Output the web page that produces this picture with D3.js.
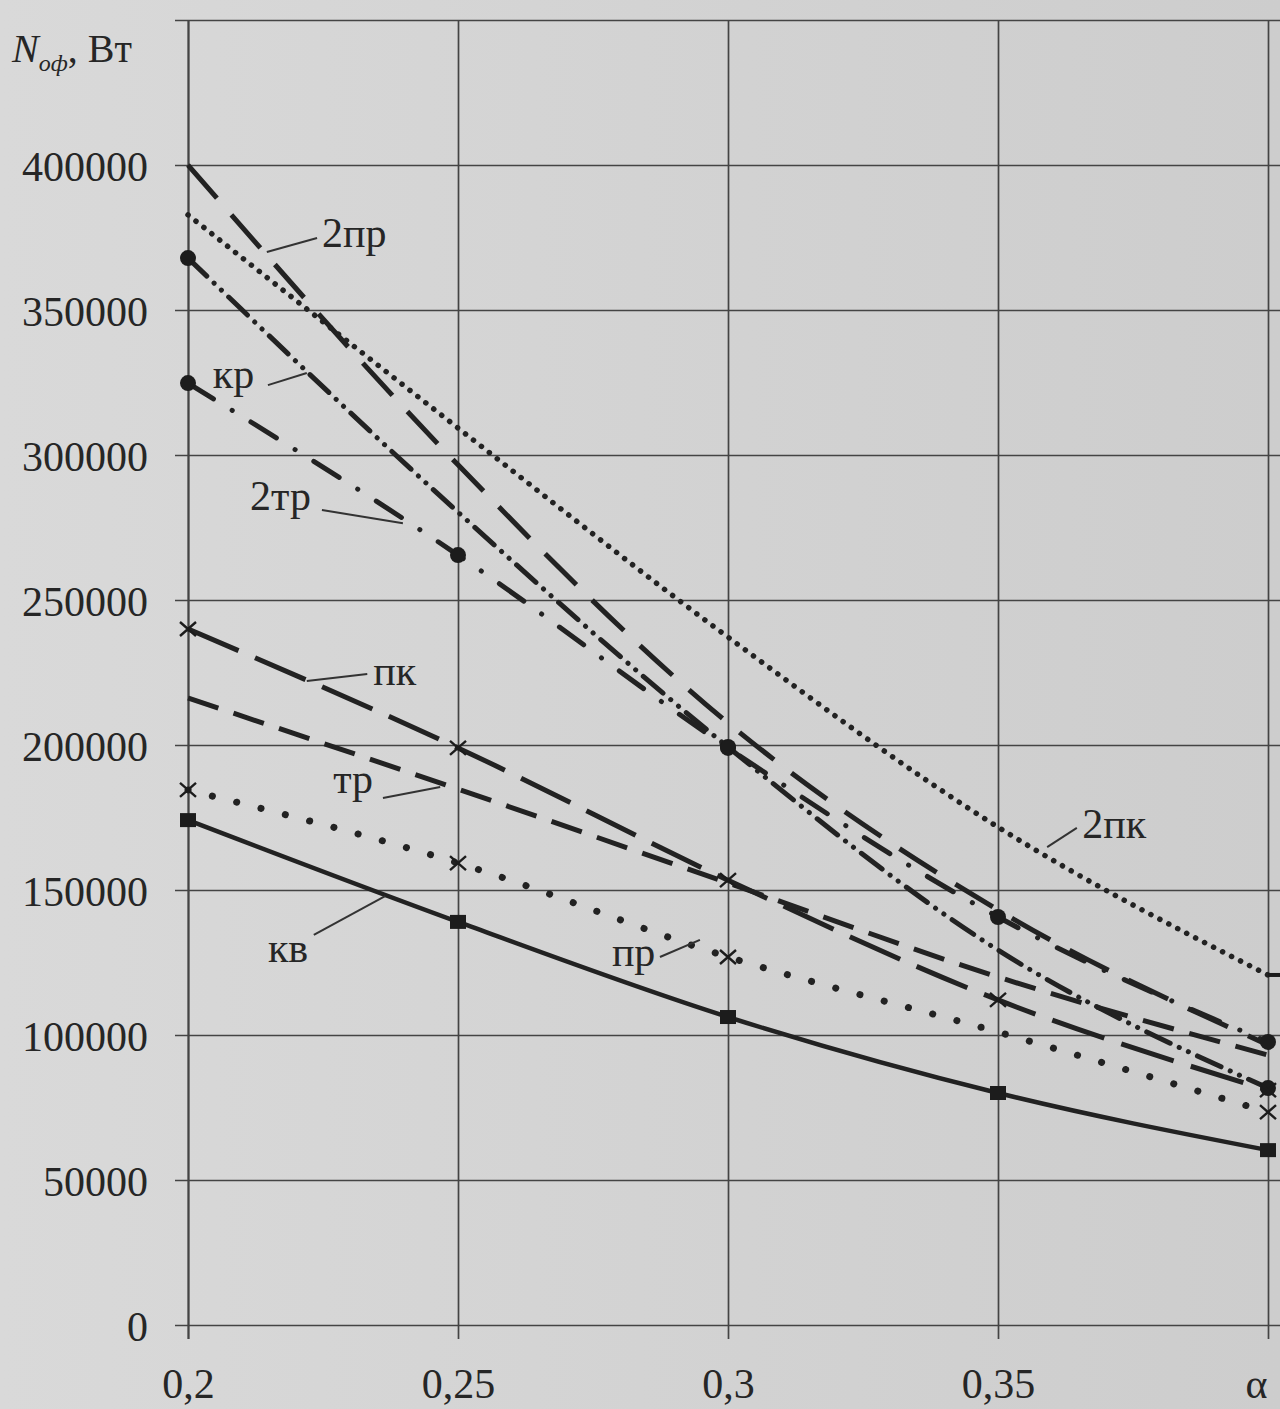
<!DOCTYPE html>
<html>
<head>
<meta charset="utf-8">
<script src="https://cdn.jsdelivr.net/npm/d3@7"></script>
<style>
  body { margin: 0; background: #d6d6d6; }
  svg { display: block; }
  text { font-family: "Liberation Serif", "DejaVu Serif", serif; fill: #262626; }
</style>
</head>
<body>
<svg class="displayContext" width="1280" height="1409"></svg>
<script>
// alpha values on the x axis
var alphaValues = [0.2, 0.25, 0.3, 0.35, 0.4];
var alphaLabels = ["0,2", "0,25", "0,3", "0,35", "α"];
var yTicks = [0, 50000, 100000, 150000, 200000, 250000, 300000, 350000, 400000, 450000];

// N, W for each cross-section type
var s2pr = [400000, 296600, 207600, 143100, 96600];
var s2pk = [382800, 309300, 237200, 171700, 120700];
var sKr  = [367900, 280300, 199300, 129300, 81700];
var s2tr = [324800, 265500, 199000, 140700, 97600];
var sPk  = [240000, 199000, 153400, 112100, 81000];
var sTr  = [216200, 184800, 152400, 120000, 93100];
var sPr  = [184500, 159300, 126900, 101000, 73400];
var sKv  = [174100, 139000, 106200, 80000, 60300];

// label text anchor, leader start, leader tip  (alpha, N)
var labelNames = ["2пр", "кр", "2тр", "пк", "тр", "пр", "кв", "2пк"];
var labelText  = [[0.2248, 371700], [0.2046, 323100], [0.2115, 281000], [0.2343, 220700],
                  [0.2269, 183400], [0.2785, 123800], [0.2148, 125200], [0.3656, 167900]];
var labelFrom  = [[0.2239, 374800], [0.2148, 324100], [0.2248, 281000], [0.2332, 224500],
                  [0.2361, 181700], [0.2874, 126900], [0.2233, 134500], [0.3646, 171400]];
var labelTip   = [[0.2146, 370000], [0.2220, 328300], [0.2398, 276500], [0.2220, 222100],
                  [0.2467, 185500], [0.2948, 132800], [0.2365, 147900], [0.3591, 164800]];

function drawChart(){

  displayContext = d3.select(".displayContext");

  var left = 188, right = 1268, top = 20, bottom = 1325;

  // scanned page tone, a bit darker to the right
  var grad = displayContext.append("defs").append("linearGradient")
    .attr("id", "paper").attr("x1", 0).attr("x2", 1).attr("y1", 0).attr("y2", 0);
  grad.append("stop").attr("offset", 0).attr("stop-color", "#d9d9d9");
  grad.append("stop").attr("offset", 1).attr("stop-color", "#cdcdcd");
  displayContext.append("rect").attr("width", 1280).attr("height", 1409).attr("fill", "url(#paper)");

  var scaleX = d3.scaleLinear().domain([0.2, 0.4]).range([left, right]);
  var scaleY = d3.scaleLinear().domain([0, 450000]).range([bottom, top]);

  // horizontal grid + y labels
  var y_axis = d3.axisLeft(scaleY)
    .tickValues(yTicks)
    .tickSizeInner(-(1280 - left))
    .tickSizeOuter(0)
    .tickFormat(function(d){ return d == 450000 ? "" : String(d); });

  var gy = displayContext.append("g")
    .attr("transform", "translate(" + left + ",0)")
    .call(y_axis);
  gy.select(".domain").remove();
  gy.selectAll("line").attr("x1", -13).attr("stroke", "#444").attr("stroke-width", 1.7);
  gy.selectAll("text")
    .attr("x", -40).attr("dy", "0.36em")
    .style("font-size", "42px")
    .attr("fill", "#262626");

  // vertical grid + x labels
  var x_axis = d3.axisBottom(scaleX)
    .tickValues(alphaValues)
    .tickSizeInner(-(bottom - top))
    .tickSizeOuter(0)
    .tickFormat(function(d, i){ return alphaLabels[i]; });

  var gx = displayContext.append("g")
    .attr("transform", "translate(0," + bottom + ")")
    .call(x_axis);
  gx.select(".domain").remove();
  gx.selectAll("line").attr("y1", 14).attr("stroke", "#444").attr("stroke-width", 1.7);
  gx.selectAll("line").filter(function(d){ return d == 0.2; }).attr("stroke-width", 2.3);
  gx.selectAll("text")
    .attr("y", 73).attr("dy", null)
    .style("font-size", "42px")
    .attr("fill", "#262626");
  gx.selectAll("text").filter(function(d){ return d == 0.4; }).attr("dx", -12);

  // axis title
  var title = displayContext.append("text")
    .attr("x", 12).attr("y", 62)
    .style("font-size", "40px");
  title.append("tspan").text("N").style("font-style", "italic");
  title.append("tspan").text("оф").attr("dy", 9).style("font-size", "24px").style("font-style", "italic");
  title.append("tspan").text(", Вт").attr("dy", -9);

  drawLine(s2pr, scaleX, scaleY, "44,22", 5, "butt");
  drawLine(s2pk, scaleX, scaleY, "0.1,10", 5.5, "round");
  drawLine(sKr,  scaleX, scaleY, "26,10,0.1,10,0.1,10", 5, "round");
  drawLine(s2tr, scaleX, scaleY, "30,22,0.1,22", 5, "round");
  drawLine(sPk,  scaleX, scaleY, "55,18", 5, "butt");
  drawLine(sTr,  scaleX, scaleY, "32,16", 5, "butt");
  drawLine(sPr,  scaleX, scaleY, "0.1,25", 7, "round");
  drawLine(sKv,  scaleX, scaleY, null, 4.5, "butt");

  drawMarkers(sKr,  [0, 2, 4], "circle", scaleX, scaleY);
  drawMarkers(s2tr, [0, 1, 2, 3, 4], "circle", scaleX, scaleY);
  drawMarkers(sPk,  [0, 1, 2, 3, 4], "cross", scaleX, scaleY);
  drawMarkers(sPr,  [0, 1, 2, 4], "cross", scaleX, scaleY);
  drawMarkers(sKv,  [0, 1, 2, 3, 4], "square", scaleX, scaleY);
  drawMarkers(s2pk, [4], "bar", scaleX, scaleY);

  // curve names with leader lines
  labelNames.forEach(function(name, i){
    displayContext.append("line")
      .attr("x1", scaleX(labelFrom[i][0])).attr("y1", scaleY(labelFrom[i][1]))
      .attr("x2", scaleX(labelTip[i][0])).attr("y2", scaleY(labelTip[i][1]))
      .attr("stroke", "#333").attr("stroke-width", 2);
    displayContext.append("text")
      .attr("x", scaleX(labelText[i][0])).attr("y", scaleY(labelText[i][1]))
      .style("font-size", "42px")
      .text(name);
  });
}

function drawLine(data, sx, sy, dash, width, cap){

  var lineFunction = d3.line()
    .x(function(d, i) { return sx(alphaValues[i]); })
    .y(function(d) { return sy(d); })
    .curve(d3.curveMonotoneX);

  displayContext.append("path")
    .attr("d", lineFunction(data))
    .attr("stroke", "#222")
    .attr("stroke-width", width)
    .attr("stroke-linecap", cap)
    .attr("stroke-dasharray", dash)
    .attr("fill", "none");
}

function drawMarkers(data, idx, kind, sx, sy){

  idx.forEach(function(i){
    var cx = sx(alphaValues[i]), cy = sy(data[i]);
    if (kind == "circle") {
      displayContext.append("circle").attr("cx", cx).attr("cy", cy).attr("r", 8).attr("fill", "#1c1c1c");
    } else if (kind == "square") {
      displayContext.append("rect").attr("x", cx - 8).attr("y", cy - 7).attr("width", 16).attr("height", 14).attr("fill", "#1c1c1c");
    } else if (kind == "bar") {
      displayContext.append("rect").attr("x", cx).attr("y", cy - 2).attr("width", 12).attr("height", 4).attr("fill", "#1c1c1c");
    } else {
      displayContext.append("path")
        .attr("d", "M" + (cx - 8) + "," + (cy - 7) + "L" + (cx + 8) + "," + (cy + 7) +
                   "M" + (cx + 8) + "," + (cy - 7) + "L" + (cx - 8) + "," + (cy + 7))
        .attr("stroke", "#1c1c1c").attr("stroke-width", 2.4).attr("fill", "none");
    }
  });
}

drawChart();
</script>
</body>
</html>
